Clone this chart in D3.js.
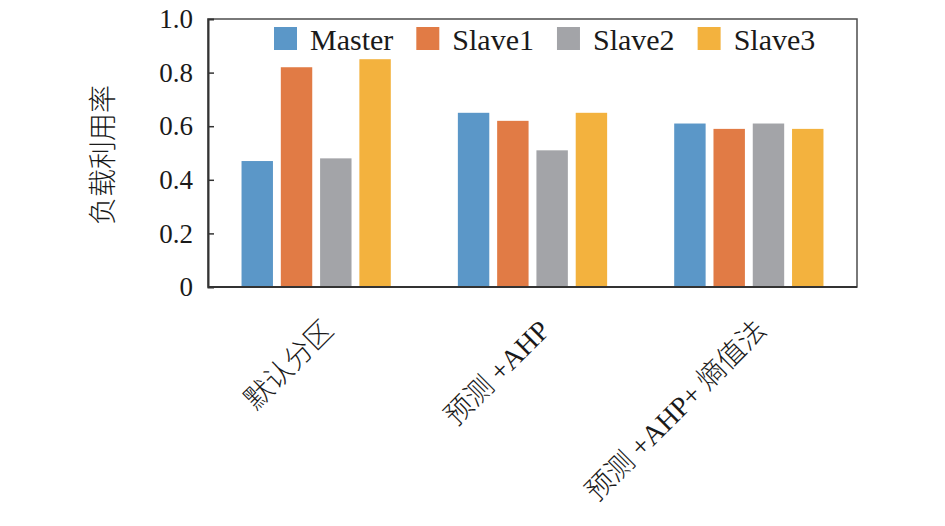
<!DOCTYPE html>
<html lang="zh">
<head>
<meta charset="utf-8">
<script src="https://d3js.org/d3.v7.min.js"></script>
<style>
  body { margin: 0; background: #fff; }
  text { fill: #1a1a1a; }
</style>
</head>
<body>
<script>
  // data
  var categories = ["默认分区", "预测 +AHP", "预测 +AHP+ 熵值法"];
  var seriesNames = ["Master", "Slave1", "Slave2", "Slave3"];
  var master = [0.47, 0.65, 0.61];
  var slave1 = [0.82, 0.62, 0.59];
  var slave2 = [0.48, 0.51, 0.61];
  var slave3 = [0.85, 0.65, 0.59];
  var yTicks = [0, 0.2, 0.4, 0.6, 0.8, 1.0];
  var colors = ["#5b97c8", "#e17b45", "#a3a4a8", "#f3b23e"];

  var seriesValues = [master, slave1, slave2, slave3];
  var width = 945, height = 526;
  // plot box (window.top is reserved, so use other names)
  var plotL = 208, plotR = 857, plotT = 19, plotB = 287;
  var serif = "'Liberation Serif', 'Times New Roman', 'Noto Sans CJK SC', serif";

  var svg = d3.select("body").append("svg")
    .attr("width", width)
    .attr("height", height)
    .style("font-family", serif);

  var x0 = d3.scaleBand().domain(categories).range([plotL, plotR])
    .paddingInner(0.31).paddingOuter(0.155);
  var x1 = d3.scaleBand().domain(seriesNames).range([0, x0.bandwidth()])
    .paddingInner(0.2);
  var y = d3.scaleLinear().domain([0, 1]).range([plotB, plotT]);
  var color = d3.scaleOrdinal().domain(seriesNames).range(colors);

  // bars
  var rows = categories.map(function (c, i) {
    return { cat: c, vals: seriesNames.map(function (s, j) {
      return { name: s, value: seriesValues[j][i] };
    }) };
  });
  svg.append("g").selectAll("g")
    .data(rows)
    .join("g")
    .attr("transform", function (d) { return "translate(" + x0(d.cat) + ",0)"; })
    .selectAll("rect")
    .data(function (d) { return d.vals; })
    .join("rect")
    .attr("x", function (d) { return x1(d.name); })
    .attr("width", x1.bandwidth())
    .attr("y", function (d) { return y(d.value); })
    .attr("height", function (d) { return y(0) - y(d.value); })
    .attr("fill", function (d) { return color(d.name); });

  // frame
  svg.append("rect")
    .attr("x", plotL).attr("y", plotT)
    .attr("width", plotR - plotL).attr("height", plotB - plotT)
    .attr("fill", "none").attr("stroke", "#4d4d4d").attr("stroke-width", 1.5);

  // y axis with inward ticks
  var yAxis = d3.axisLeft(y).tickValues(yTicks)
    .tickSize(-6).tickPadding(15)
    .tickFormat(function (d) { return d === 0 ? "0" : d3.format(".1f")(d); });
  var ga = svg.append("g").attr("transform", "translate(" + plotL + ",0)").call(yAxis);
  ga.attr("font-family", null);
  ga.select(".domain").attr("stroke", "#333").attr("stroke-width", 2);
  ga.selectAll(".tick line").attr("stroke", "#333").attr("stroke-width", 1.5)
    .filter(function (d) { return d === 0 || d === 1; }).remove();
  ga.selectAll(".tick text")
    .style("font-family", serif).attr("font-size", 27).attr("fill", "#1a1a1a");

  // x axis line
  svg.append("line")
    .attr("x1", plotL).attr("x2", plotR).attr("y1", plotB).attr("y2", plotB)
    .attr("stroke", "#333").attr("stroke-width", 2);

  // x labels rotated
  svg.append("g").selectAll("text")
    .data(categories)
    .join("text")
    .attr("transform", function (d) {
      return "translate(" + (x0(d) + x0.bandwidth() / 2 + 12) + ",325) rotate(-45)";
    })
    .attr("text-anchor", "end")
    .attr("dy", "0.35em")
    .attr("font-size", 28)
    .attr("font-weight", 300)
    .style("font-family", serif)
    .text(function (d) { return d; });

  // y title
  svg.append("text")
    .attr("transform", "translate(103,155) rotate(-90)")
    .attr("text-anchor", "middle")
    .attr("dy", "0.35em")
    .attr("font-size", 28)
    .attr("font-family", "'Noto Sans CJK SC', sans-serif")
    .attr("font-weight", 300)
    .text("负载利用率");

  // legend
  var legend = svg.append("g");
  var lx = 274;
  seriesNames.forEach(function (s) {
    legend.append("rect")
      .attr("x", lx).attr("y", 27).attr("width", 23).attr("height", 23)
      .attr("fill", color(s));
    var t = legend.append("text")
      .attr("x", lx + 36).attr("y", 50)
      .attr("font-size", 30)
      .text(s);
    lx = lx + 36 + t.node().getComputedTextLength() + 23;
  });
</script>
</body>
</html>
